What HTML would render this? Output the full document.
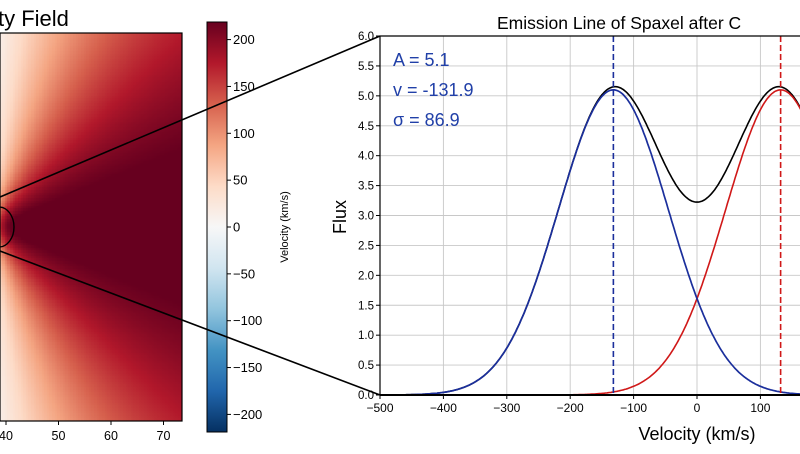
<!DOCTYPE html>
<html><head><meta charset="utf-8"><style>
html,body{margin:0;padding:0;background:#fff;width:800px;height:454px;overflow:hidden;position:relative;font-family:"Liberation Sans","DejaVu Sans",sans-serif}
#heat{position:absolute;left:0;top:33px}
svg{position:absolute;left:0;top:0}
</style></head><body>
<canvas id="heat" width="182" height="388"></canvas>
<svg id="s" width="800" height="454"></svg>
<script>
// ---- data ----
const compBlue = [5.1, -131.9, 86.9];   // A, v, sigma
const compRed = [5.1, 131.9, 86.9];
const xTicks = [-500,-400,-300,-200,-100,0,100];
const yTicks = [0,0.5,1,1.5,2,2.5,3,3.5,4,4.5,5,5.5,6];
const cbTicks = [200,150,100,50,0,-50,-100,-150,-200];
const fieldVmax = [232];
const fieldCenter = [-10, 194]; // px in heatmap canvas
const fieldAxisRatio = [0.88];
const heatXTicks = [40,50,60,70];

const NS="http://www.w3.org/2000/svg", s=document.getElementById('s');
function el(t,a,txt){const e=document.createElementNS(NS,t);for(const k in a)e.setAttribute(k,a[k]);if(txt!==undefined)e.textContent=txt;s.appendChild(e);return e;}

const stops=['#053061','#2166ac','#4393c3','#92c5de','#d1e5f0','#f7f7f7','#fddbc7','#f4a582','#d6604d','#b2182b','#67001f'].map(h=>[parseInt(h.substr(1,2),16),parseInt(h.substr(3,2),16),parseInt(h.substr(5,2),16)]);
function cmap(t){t=Math.max(0,Math.min(1,t));const f=t*10,i=Math.min(9,Math.floor(f)),r=f-i;const a=stops[i],b=stops[i+1];return `rgb(${Math.round(a[0]+(b[0]-a[0])*r)},${Math.round(a[1]+(b[1]-a[1])*r)},${Math.round(a[2]+(b[2]-a[2])*r)})`;}
const VMIN=-219,VMAX=219;

const ctx=document.getElementById('heat').getContext('2d');
const cell=2.625;
for(let cy=0;cy*cell<388;cy++)for(let cx=0;cx*cell<182;cx++){
  const dx=cx*cell+cell/2-fieldCenter[0], dy=(cy*cell+cell/2-fieldCenter[1])*fieldAxisRatio[0];
  const r=Math.hypot(dx,dy);
  const v=fieldVmax[0]*Math.tanh(r/12)*(r?dx/r:0);
  ctx.fillStyle=cmap((v-VMIN)/(VMAX-VMIN));
  ctx.fillRect(Math.floor(cx*cell),Math.floor(cy*cell),Math.ceil(cell)+1,Math.ceil(cell)+1);
}
el('rect',{x:0,y:33,width:182,height:388,fill:'none',stroke:'#000','stroke-width':1.2,});
const hx=v=>6+(v-40)*5.25;
heatXTicks.forEach(v=>{el('line',{x1:hx(v),x2:hx(v),y1:421,y2:425,stroke:'#000'});const t=el('text',{x:hx(v),y:440,'font-size':12.5,'text-anchor':'middle'},v);});
el('text',{x:-2,y:26,'font-size':22,},'ty Field');
el('ellipse',{cx:-1,cy:227,rx:15,ry:20,fill:'none',stroke:'#000','stroke-width':1.4,});

const cbTop=22,cbBot=432;
const cy=v=>227-v*0.937;
const g=el('defs',{});
const lg=document.createElementNS(NS,'linearGradient');lg.setAttribute('id','cbg');lg.setAttribute('x1',0);lg.setAttribute('y1',1);lg.setAttribute('x2',0);lg.setAttribute('y2',0);
for(let i=0;i<=20;i++){const st=document.createElementNS(NS,'stop');st.setAttribute('offset',i/20);st.setAttribute('stop-color',cmap(i/20));lg.appendChild(st);}
g.appendChild(lg);
el('rect',{x:207,y:cbTop,width:20,height:cbBot-cbTop,fill:'url(#cbg)',stroke:'#000','stroke-width':1,});
cbTicks.forEach(v=>{el('line',{x1:227,x2:231,y1:cy(v),y2:cy(v),stroke:'#000'});const t=el('text',{x:233,y:cy(v)+4.5,'font-size':13},v<0?'\u2212'+(-v):v);});
el('text',{x:0,y:0,'font-size':11,'text-anchor':'middle',transform:'translate(288,227) rotate(-90)',},'Velocity (km/s)');

el('line',{x1:0,y1:197,x2:380,y2:36,stroke:'#000','stroke-width':1.6,});
el('line',{x1:0,y1:251,x2:380,y2:395,stroke:'#000','stroke-width':1.6,});

const X=v=>380+(v+500)*0.634, Y=v=>395-v*59.83;
el('rect',{x:380,y:36,width:430,height:359,fill:'#fff'});
xTicks.forEach(v=>{el('line',{x1:X(v),x2:X(v),y1:36,y2:395,stroke:'#c8c8c8','stroke-width':0.9});el('line',{x1:X(v),x2:X(v),y1:395,y2:399,stroke:'#000'});const t=el('text',{x:X(v),y:412,'font-size':12,'text-anchor':'middle'},v<0?'\u2212'+(-v):v);});
yTicks.forEach(v=>{el('line',{x1:380,x2:810,y1:Y(v),y2:Y(v),stroke:'#c8c8c8','stroke-width':0.9});el('line',{x1:376,x2:380,y1:Y(v),y2:Y(v),stroke:'#000'});const t=el('text',{x:374,y:Y(v)+4,'font-size':11.5,'text-anchor':'end'},v.toFixed(1));});
const gauss=(c,v)=>c[0]*Math.exp(-0.5*Math.pow((v-c[1])/c[2],2));
function path(f){let d='';for(let v=-500;v<=200;v+=2){d+=(d?'L':'M')+X(v).toFixed(1)+','+Y(f(v)).toFixed(1);}return d;}
el('path',{d:path(v=>gauss(compBlue,v)+gauss(compRed,v)),fill:'none',stroke:'#000','stroke-width':1.6,});
el('path',{d:path(v=>gauss(compRed,v)),fill:'none',stroke:'#d01818','stroke-width':1.6,});
el('path',{d:path(v=>gauss(compBlue,v)),fill:'none',stroke:'#1b2f9c','stroke-width':1.7,});
el('line',{x1:X(compBlue[1]),x2:X(compBlue[1]),y1:36,y2:395,stroke:'#1b2f9c','stroke-width':1.6,'stroke-dasharray':'6,3',});
el('line',{x1:X(compRed[1]),x2:X(compRed[1]),y1:36,y2:395,stroke:'#d01818','stroke-width':1.6,'stroke-dasharray':'6,3',});
el('line',{x1:380,x2:380,y1:36,y2:395,stroke:'#000','stroke-width':1.2});
el('line',{x1:380,x2:810,y1:36,y2:36,stroke:'#000','stroke-width':1.2});
el('line',{x1:380,x2:810,y1:395,y2:395,stroke:'#000','stroke-width':2});
el('text',{x:393,y:66,'font-size':18,fill:'#2140a8',},'A = '+compBlue[0].toFixed(1));
el('text',{x:393,y:96,'font-size':18,fill:'#2140a8',},'v = '+compBlue[1].toFixed(1));
el('text',{x:393,y:126,'font-size':18,fill:'#2140a8',},'\u03c3 = '+compBlue[2].toFixed(1));
el('text',{x:497,y:29,'font-size':17.5,},'Emission Line of Spaxel after C');
el('text',{x:0,y:0,'font-size':18,'text-anchor':'middle',transform:'translate(346,217) rotate(-90)',},'Flux');
el('text',{x:697,y:440,'font-size':18,'text-anchor':'middle',},'Velocity (km/s)');
</script>
</body></html>
